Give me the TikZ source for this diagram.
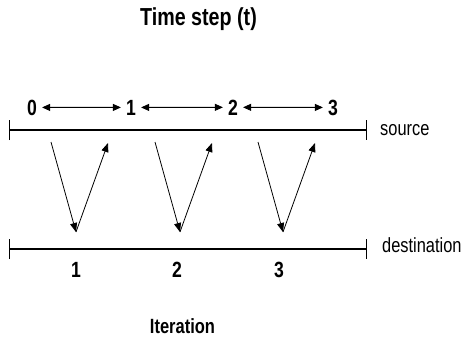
\documentclass[tikz,border=0pt]{standalone}
\usepackage{fontspec}
\setmainfont{Liberation Sans}[FakeStretch=0.8]
\usetikzlibrary{arrows.meta}

\begin{document}
\begin{tikzpicture}[
  x=1pt, y=-1pt,
  ttl/.style={font=\fontsize{24.6}{26}\selectfont\bfseries, anchor=base, inner sep=0pt},
  stepnum/.style={font=\fontsize{22}{24}\selectfont\bfseries, anchor=base, inner xsep=5pt, inner ysep=0pt},
  lbl/.style={font=\fontsize{20.5}{22}\selectfont, anchor=base west, inner sep=0pt},
  lane/.style={line width=1.3pt, {Bar[width=20pt,line width=1.1pt]}-{Bar[width=20pt,line width=1.1pt]}},
  dbl/.style={line width=0.9pt, {Triangle[length=8pt,width=7pt]}-{Triangle[length=8pt,width=7pt]}},
  msg/.style={line width=0.8pt, -{Triangle[length=9pt,width=7pt]}}
]
\useasboundingbox (0,0) rectangle (464,341);

\node[ttl] (title) at (198.5,25) {Time step (t)};

% time steps on the source side
\node[stepnum] (t0) at (32,115) {0};
\node[stepnum] (t1) at (131,115) {1};
\node[stepnum] (t2) at (233,115) {2};
\node[stepnum] (t3) at (333,115) {3};
\draw[dbl] (t0) -- (t1);
\draw[dbl] (t1) -- (t2);
\draw[dbl] (t2) -- (t3);

% the two lanes
\coordinate (srcL) at (9,130);
\coordinate (srcR) at (367,130);
\coordinate (dstL) at (9,249);
\coordinate (dstR) at (367,249);
\draw[lane] (srcL) -- (srcR);
\draw[lane] (dstL) -- (dstR);
\node[lbl] (src) at (380,135) {source};
\node[lbl] (dst) at (382,252) {destination};

% one round trip per iteration
\foreach \i/\xa/\xb/\xc in {1/51/76/108, 2/155/180/212, 3/258/283/315} {
  \coordinate (snd\i) at (\xa,142);
  \coordinate (rcv\i) at (\xb,232);
  \coordinate (ack\i) at (\xc,143);
  \draw[msg] (snd\i) -- (rcv\i);
  \draw[msg] (rcv\i) -- (ack\i);
}

\node[stepnum] (it1) at (76,277) {1};
\node[stepnum] (it2) at (177,277) {2};
\node[stepnum] (it3) at (279,277) {3};

\node[ttl, font=\fontsize{20.6}{22}\selectfont\bfseries] (iter) at (182.5,333) {Iteration};
\end{tikzpicture}
\end{document}
